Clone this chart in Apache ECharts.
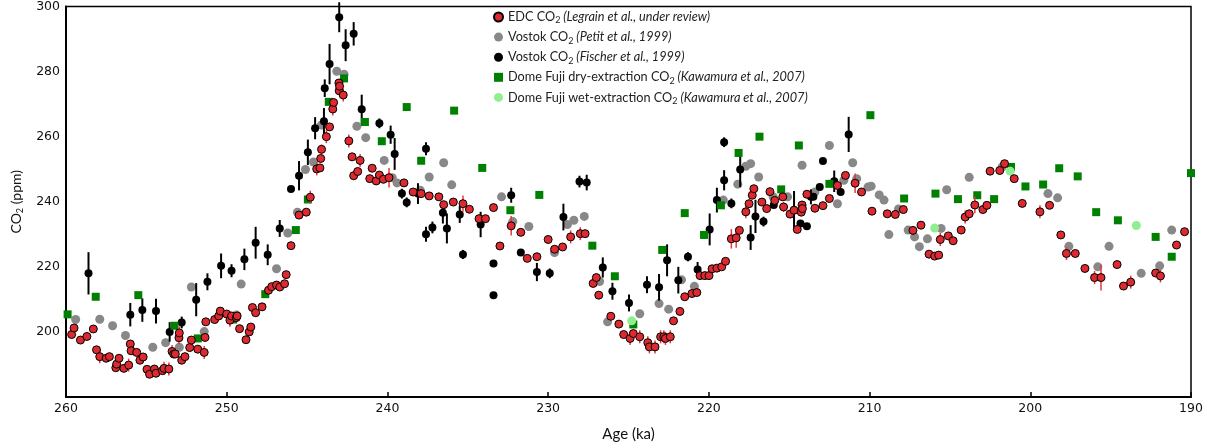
<!DOCTYPE html>
<html><head><meta charset="utf-8">
<script src="https://cdn.jsdelivr.net/npm/echarts@6/dist/echarts.min.js"></script>
<style>html,body{margin:0;padding:0;background:#fff}#c{width:1210px;height:448px}</style>
</head><body><div id="c"></div>
<script>
// ---- data ----
const seriesNames = [
  'EDC', 'VostokPetit', 'VostokFischer', 'DFdry', 'DFwet'
];
const legendLabels = {
  EDC: ['EDC CO', '(Legrain et al., under review)'],
  VostokPetit: ['Vostok CO', '(Petit et al., 1999)'],
  VostokFischer: ['Vostok CO', '(Fischer et al., 1999)'],
  DFdry: ['Dome Fuji dry-extraction CO', '(Kawamura et al., 2007)'],
  DFwet: ['Dome Fuji wet-extraction CO', '(Kawamura et al., 2007)']
};
const xTicks = [260, 250, 240, 230, 220, 210, 200, 190];
const yTicks = [180, 200, 220, 240, 260, 280, 300];

const edcAge = [259.65,259.5,259.1,258.7,258.3,258.1,257.9,257.5,257.3,256.9,256.85,256.7,256.4,256.1,256.0,255.95,255.6,255.4,255.2,254.96,254.8,254.5,254.4,254.0,253.9,253.6,253.4,253.3,253.2,252.97,252.95,252.8,252.6,252.3,252.2,251.8,251.4,251.35,251.3,250.75,250.5,250.4,250.0,249.8,249.7,249.4,249.35,249.2,248.8,248.6,248.5,248.4,248.2,247.8,247.4,247.2,246.9,246.7,246.4,246.3,246.0,245.5,245.05,244.8,244.4,244.2,244.15,244.1,243.8,243.6,243.4,243.35,243.0,243.02,242.98,242.75,242.4,242.2,242.1,241.85,241.7,241.1,240.95,240.7,240.5,240.25,239.9,238.97,238.4,237.9,237.4,236.8,236.5,235.9,235.3,234.9,234.3,233.9,233.4,233.0,232.3,231.7,231.3,230.7,230.0,229.6,229.1,228.6,228.0,227.7,227.2,227.0,226.85,226.1,225.6,225.3,224.9,224.7,224.3,223.8,223.7,223.35,223.0,222.8,222.7,222.4,222.2,221.8,221.5,221.05,220.75,220.55,220.25,219.99,219.8,219.5,219.2,218.96,218.6,218.3,218.1,217.7,217.5,217.3,217.2,216.7,216.4,216.2,215.9,215.4,215.35,214.95,214.7,214.5,214.25,214.2,214.18,213.9,213.4,212.9,212.5,212.0,211.5,210.9,210.5,209.85,208.9,208.4,207.9,207.3,206.8,206.3,205.95,205.7,205.6,205.1,204.8,204.3,204.05,203.8,203.45,202.95,202.7,202.5,201.9,201.6,201.0,200.5,199.4,198.8,198.1,197.75,197.2,196.6,196.0,195.6,194.6,194.2,193.75,192.2,191.9,190.9,190.4];
const edcCO2 = [199.2,201.2,197.5,198.6,200.9,194.5,192.4,191.9,192.4,189.0,190.1,191.9,188.8,189.8,196.3,194.2,193.7,191.3,192.3,188.5,187.0,188.6,187.3,188.1,188.8,188.6,194.0,193.2,193.2,198.2,199.7,191.3,192.4,195.2,197.5,194.7,193.7,198.3,203.1,203.8,204.9,206.4,205.5,203.6,204.9,204.4,204.9,201.0,197.6,200.0,201.5,207.5,205.9,207.7,212.8,213.9,214.4,213.8,214.8,217.6,226.5,235.9,236.8,241.4,250.1,250.4,253.3,256.1,260.0,263.0,268.5,270.5,274.1,276.5,275.5,272.8,258.7,253.8,248.0,249.3,252.7,247.1,250.3,246.4,248.2,246.9,247.4,245.8,243.0,242.5,241.8,241.5,239.1,239.9,239.4,237.7,234.8,234.8,238.2,226.4,232.6,230.6,222.6,223.1,228.4,225.4,226.1,229.2,230.2,230.2,214.9,216.7,211.3,204.8,202.4,199.2,198.0,199.5,198.5,196.7,195.4,195.4,198.5,198.5,198.0,198.5,203.4,206.3,210.8,211.8,212.1,217.3,217.3,217.3,219.4,219.6,220.0,221.7,228.6,228.9,231.2,236.9,239.4,242.0,244.0,239.9,237.9,243.1,240.4,241.5,238.4,236.2,237.4,231.5,236.8,239.0,237.9,242.3,238.0,238.8,241.0,245.0,248.1,245.7,243.0,237.1,236.3,236.1,237.6,231.2,232.8,223.9,223.3,223.6,228.4,229.5,228.0,231.3,235.3,236.3,239.0,237.6,238.9,249.4,249.6,251.7,247.1,239.5,236.9,238.9,229.8,224.1,224.1,219.5,216.7,216.7,220.7,214.1,215.3,218.1,217.2,226.7,230.8];
const edcErr = [1,1,1,1,1,1,2,1,1,1,1.5,1,1,2,1,1,1,1,1,1,1,1,1,1,2,2,2,1,1,2,2,1,1,1,1,1,2,1,1,1,1,1,1,2,1,1,1,1,1,1,1,1,1,1,1,1,1,1,1,1,1,1,1,2,2,1,1,1.5,2,1,2,1,1,1,1,2,2,1,1,1,2,1,1,1,1,1,3,1,1,1,1,1,1,1,2.5,1,1,1,1,1,3,1,1,1,1,1,1,2,2,1,1,1,1,1,1,1,2,1,2,2,2,2,2,2,2,2,1,1,1,1,1,1,1,1,1,1,1,1,3,3,1,2,1,1,1,1,1,1,1,1,1.5,1,1,1,1,1,1,1,1,1,1,1,1,3,1,1,1,1,1,1,1,1,1,1,2,1,1,1,2,1,2.5,1,1,1,1,1,1,1,2,1,1,2,1,1,2,4,1,1,2,1,2,1,1];

const petitAge = [259.4,257.9,257.1,256.3,254.6,253.8,252.95,252.2,251.4,249.4,249.1,246.9,246.2,245.6,245.1,244.6,244.1,243.15,242.7,241.9,241.35,240.2,239.7,239.4,237.95,237.4,236.5,236.0,232.9,232.2,231.2,229.6,228.8,228.4,227.75,226.8,226.3,224.3,223.1,222.5,221.7,220.9,219.1,218.2,217.7,217.4,216.9,216.0,215.1,214.2,213.4,212.5,212.0,211.6,211.05,210.8,210.1,209.9,209.4,209.1,208.8,208.2,207.6,207.2,206.9,206.4,205.55,205.2,203.8,201.75,198.9,198.3,197.6,195.8,195.1,193.1,191.95,191.2];
const petitCO2 = [203.8,203.9,201.9,198.9,195.3,196.7,195.3,213.8,200.1,205.2,214.7,219.4,230.4,236.8,249.9,252.2,263.6,280.1,279.2,263.2,259.7,252.7,247.4,245.8,243.5,247.6,252.0,245.2,241.5,233.9,232.4,224.4,233.0,234.3,235.5,215.5,203.1,205.6,208.7,207.0,216.0,214.0,240.5,245.4,250.9,251.7,247.6,241.5,241.5,251.2,243.0,257.3,239.4,246.6,252.0,247.1,244.5,244.8,242.1,240.5,229.9,237.8,231.3,229.2,226.2,228.6,231.8,243.7,247.5,250.7,242.5,241.2,226.3,220.0,226.3,218.0,220.3,231.3];

const fischerAge = [258.6,256.0,255.25,254.4,253.55,252.8,251.9,251.2,250.35,249.7,248.9,248.2,247.45,246.7,246.0,245.5,244.95,244.5,243.95,243.9,243.6,243.0,242.6,242.1,241.6,240.5,239.8,239.55,239.1,238.8,238.1,237.6,237.6,237.2,236.55,236.3,235.5,235.3,234.2,233.4,233.4,232.3,231.7,230.7,229.9,229.05,228.05,227.6,226.6,226.0,224.97,223.85,223.1,222.6,221.9,221.3,220.7,219.95,219.5,219.05,219.05,218.6,218.05,217.4,217.1,216.6,215.96,214.7,214.3,213.9,213.65,213.5,213.1,212.9,212.2,211.8,211.3];
const fischerCO2 = [218.0,205.3,206.7,206.4,200.0,202.9,209.9,215.4,220.3,218.8,222.3,227.4,223.7,231.8,243.9,248.0,255.2,262.6,264.7,274.9,282.3,296.7,288.1,291.6,268.4,264.1,260.6,254.7,242.5,239.8,242.5,256.3,230.0,232.1,236.6,231.8,236.1,223.8,233.0,221.0,211.3,242.0,224.4,218.4,218.0,235.3,246.2,245.9,219.8,212.5,208.9,214.5,213.7,222.0,215.9,223.1,219.2,231.5,240.5,246.6,258.3,239.5,249.9,229.0,235.5,233.9,239.0,237.4,233.3,232.5,241.5,241.5,244.5,252.5,246.3,243.0,260.7];
const fischerErr = [6.5,3.6,3.6,3.8,3.0,1.8,5.1,2.6,3.8,2.0,3.3,4.9,3.2,2.6,0.8,4.5,3.9,3.4,4.1,2.7,6.2,4.6,4.9,3.6,4.5,1.5,2.8,4.9,1.5,1.5,3.2,2.0,2.3,1.8,3.3,4.6,2.6,1.4,3.9,0.8,0.8,2.3,0.8,2.8,1.5,4.1,1.8,2.4,3.1,2.6,2.6,2.6,4.1,4.9,4.1,1.4,2.3,4.9,3.8,3.1,1.5,1.5,5.4,3.8,5.1,1.5,0.8,5.9,0.8,0.8,2.3,1.0,0.8,0.8,3.3,0.8,5.4];

const dryAge = [259.9,258.15,255.5,253.25,251.8,249.6,247.6,245.7,244.95,243.65,242.7,241.4,240.35,238.8,237.9,235.85,234.1,232.35,230.55,227.25,225.85,224.7,222.9,221.5,220.3,219.25,218.15,216.85,215.5,214.4,212.5,209.95,207.85,205.9,204.5,203.3,202.25,201.2,200.3,199.2,198.2,197.05,195.9,194.55,192.2,191.2,190.0];
const dryCO2 = [205.4,210.8,211.3,201.9,198.0,203.8,211.6,231.3,240.7,270.7,277.9,264.5,258.6,269.1,252.6,268.0,250.4,237.4,242.1,226.5,217.1,202.3,225.2,236.5,229.8,238.9,255.0,260.0,243.8,257.3,245.5,266.6,241.0,242.5,240.8,242.0,240.8,250.7,244.7,245.3,250.3,247.8,236.8,234.3,229.2,223.1,248.8];

const wetAge = [224.8,205.95,201.25,193.4];
const wetCO2 = [203.4,231.9,249.4,232.7];

// ---- build ----
const zip = (a, b) => a.map((v, i) => [v, b[i]]);
const zip3 = (a, b, c) => a.map((v, i) => [v, b[i], c[i]]);

function errSeries(data, color, width, z) {
  return {
    type: 'custom', silent: true, z: z,
    data: data, encode: { x: 0, y: 1 },
    renderItem: function (params, api) {
      const x = api.value(0), y = api.value(1), e = api.value(2);
      const p1 = api.coord([x, y - e]);
      const p2 = api.coord([x, y + e]);
      return { type: 'line', shape: { x1: p1[0], y1: p1[1], x2: p2[0], y2: p2[1] },
        style: { stroke: color, lineWidth: width } };
    }
  };
}

const chart = echarts.init(document.getElementById('c'), null, { renderer: 'canvas' });
const FT = 'Lato, "Open Sans", sans-serif';
const option = {
  animation: false,
  backgroundColor: '#fff',
  grid: { left: 66, right: 19, top: 6, bottom: 51, show: true, borderColor: '#000', borderWidth: 1.5, backgroundColor: 'transparent' },
  legend: {
    orient: 'vertical', left: 488, top: 5.5, itemGap: 5.6, itemWidth: 9, itemHeight: 9,
    data: [
      { name: 'EDC', icon: 'circle' },
      { name: 'VostokPetit', icon: 'circle' },
      { name: 'VostokFischer', icon: 'circle' },
      { name: 'DFdry', icon: 'rect' },
      { name: 'DFwet', icon: 'circle' }
    ],
    formatter: function (name) {
      const l = legendLabels[name];
      return '{n|' + l[0] + '}{s|2}{i| ' + l[1] + '}';
    },
    textStyle: {
      color: '#222', fontFamily: FT, fontSize: 12.7,
      rich: {
        n: { fontFamily: FT, fontSize: 12.7, lineHeight: 16, color: '#222' },
        s: { fontFamily: FT, fontSize: 9, lineHeight: 16, color: '#222', verticalAlign: 'bottom', padding: [4, 0, 0, 0] },
        i: { fontFamily: FT, fontSize: 12.7, lineHeight: 16, fontStyle: 'italic', color: '#222' }
      }
    }
  },
  xAxis: {
    type: 'value', inverse: true, min: 190, max: 260, interval: 10,
    name: 'Age (ka)', nameLocation: 'middle', nameGap: 30,
    nameTextStyle: { fontFamily: FT, fontSize: 15, color: '#111' },
    axisLine: { show: true, lineStyle: { color: '#000', width: 2 } },
    axisTick: { show: true, inside: true, length: 5, lineStyle: { color: '#000', width: 1.5 } },
    axisLabel: { fontFamily: '"DejaVu Sans"', fontSize: 12.5, color: '#111', margin: 5,
      formatter: v => (xTicks.indexOf(v) >= 0 ? String(v) : '') },
    splitLine: { show: false }
  },
  yAxis: {
    type: 'value', min: 180, max: 300, interval: 20,
    name: '{a|CO}{b|2}{a| (ppm)}', nameLocation: 'middle', nameGap: 41, nameRotate: 90,
    nameTextStyle: { fontFamily: FT, fontSize: 14, color: '#111',
      rich: { a: { fontFamily: FT, fontSize: 14, lineHeight: 17, color: '#111' },
              b: { fontFamily: FT, fontSize: 9, lineHeight: 17, color: '#111', verticalAlign: 'bottom', padding: [4, 0, 0, 0] } } },
    axisLine: { show: true, lineStyle: { color: '#000', width: 2 } },
    axisTick: { show: false },
    axisLabel: { fontFamily: '"DejaVu Sans"', fontSize: 12.5, color: '#111', margin: 6, showMinLabel: false,
      formatter: v => (yTicks.indexOf(v) >= 0 ? String(v) : '') },
    splitLine: { show: false }
  },
  series: [
    { name: 'VostokPetit', type: 'scatter', z: 2, symbol: 'circle', symbolSize: 9,
      itemStyle: { color: '#888888', opacity: 1 }, data: zip(petitAge, petitCO2) },
    errSeries(zip3(fischerAge, fischerCO2, fischerErr), '#000', 2, 3),
    { name: 'VostokFischer', type: 'scatter', z: 4, symbol: 'circle', symbolSize: 8,
      itemStyle: { color: '#000000', opacity: 1 }, data: zip(fischerAge, fischerCO2) },
    { name: 'DFdry', type: 'scatter', z: 5, symbol: 'rect', symbolSize: 8,
      itemStyle: { color: '#008000', opacity: 1 }, data: zip(dryAge, dryCO2) },
    { name: 'DFwet', type: 'scatter', z: 6, symbol: 'circle', symbolSize: 9,
      itemStyle: { color: '#90ee90', opacity: 1 }, data: zip(wetAge, wetCO2) },
    errSeries(zip3(edcAge, edcCO2, edcErr), '#e8383d', 1.5, 7),
    { name: 'EDC', type: 'scatter', z: 8, symbol: 'circle', symbolSize: 8,
      itemStyle: { color: '#dc2a30', borderColor: '#000', borderWidth: 1, opacity: 1 }, data: zip(edcAge, edcCO2) }
  ]
};
chart.setOption(option);
</script></body></html>
